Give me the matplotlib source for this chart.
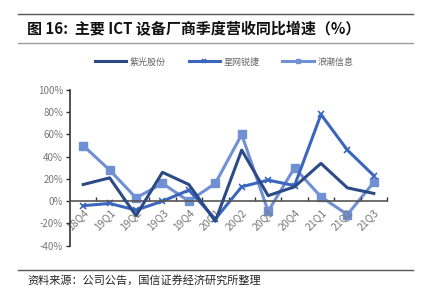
import matplotlib
matplotlib.use("Agg")
import matplotlib.pyplot as plt
from matplotlib.ticker import FixedLocator, FuncFormatter

plt.rcParams['font.family'] = ['Noto Sans CJK SC', 'DejaVu Sans']

categories = ["18Q4", "19Q1", "19Q2", "19Q3", "19Q4", "20Q1", "20Q2", "20Q3", "20Q4", "21Q1", "21Q2", "21Q3"]
ziguang = [15, 21, -13, 26, 15, -18, 46, 5, 13, 34, 12, 7]
xingwang = [-4, -2, -8, 0, 10, -16, 13, 19, 14, 78, 46, 23]
langchao = [50, 28, 3, 16, 0, 16, 60, -9, 30, 4, -12, 17]
series_names = ["紫光股份", "星网锐捷", "浪潮信息"]
yticks = [-40, -20, 0, 20, 40, 60, 80, 100]

fig = plt.figure(figsize=(4.23, 3.06), dpi=100)

# header lines and title
fig.add_artist(plt.Line2D([18/423, 413/423], [1-14/306, 1-14/306], color='#555555', lw=1.0))
fig.add_artist(plt.Line2D([18/423, 413/423], [1-43/306, 1-43/306], color='#999999', lw=1.0))
fig.text(27/423, 1-29/306, "图 16:  主要 ICT 设备厂商季度营收同比增速（%）", fontsize=10.8, fontweight='bold',
         va='center', ha='left', color='#111111')
fig.add_artist(plt.Line2D([18/423, 413/423], [1-270/306, 1-270/306], color='#555555', lw=1.0))
fig.text(27/423, 1-280/306, "资料来源：公司公告，国信证券经济研究所整理", fontsize=8,
         va='center', ha='left', color='#222222')

ax = fig.add_axes([70/423, 1-245.7/306, (387-70)/423, (245.7-90)/306])
x = list(range(len(categories)))
ax.plot(x, ziguang, color='#2B4A86', lw=2.2, label=series_names[0], zorder=3)
ax.plot(x, xingwang, color='#3A66BE', lw=2.2, marker='x', ms=4, mew=1.2, label=series_names[1], zorder=2)
ax.plot(x, langchao, color='#7090D4', lw=2.2, marker='s', ms=6, label=series_names[2], zorder=1)

ax.set_xlim(-0.5, len(categories) - 0.5)
ax.set_ylim(-40, 100)
ax.set_yticks(yticks)
ax.yaxis.set_major_formatter(FuncFormatter(lambda v, p: f"{int(v)}%"))
ax.tick_params(axis='y', labelsize=7, labelcolor='#777777', length=3, width=1, color='#333333', pad=2)

ax.spines['top'].set_visible(False)
ax.spines['right'].set_visible(False)
ax.spines['left'].set_color('#333333')
ax.spines['left'].set_linewidth(1.2)
ax.spines['bottom'].set_position(('data', 0))
ax.spines['bottom'].set_color('#555555')
ax.spines['bottom'].set_linewidth(1.2)

ax.set_xticks(x)
ax.set_xticklabels(categories, rotation=45, ha='right', rotation_mode='anchor')
ax.xaxis.set_minor_locator(FixedLocator([i + 0.5 for i in range(len(categories))]))
ax.tick_params(axis='x', which='major', length=0, labelsize=7.5, labelcolor='#777777', pad=4)
ax.tick_params(axis='x', which='minor', length=3, direction='in', color='#333333', width=1)

leg = fig.legend(loc='center', bbox_to_anchor=(0.53, 1-62/306), ncol=3, frameon=False,
                 fontsize=6.5, handlelength=3.5, columnspacing=2.5, handletextpad=0.4, markerscale=0.6)
for t in leg.get_texts():
    t.set_color('#666666')

fig.savefig("out.png", dpi=100)
